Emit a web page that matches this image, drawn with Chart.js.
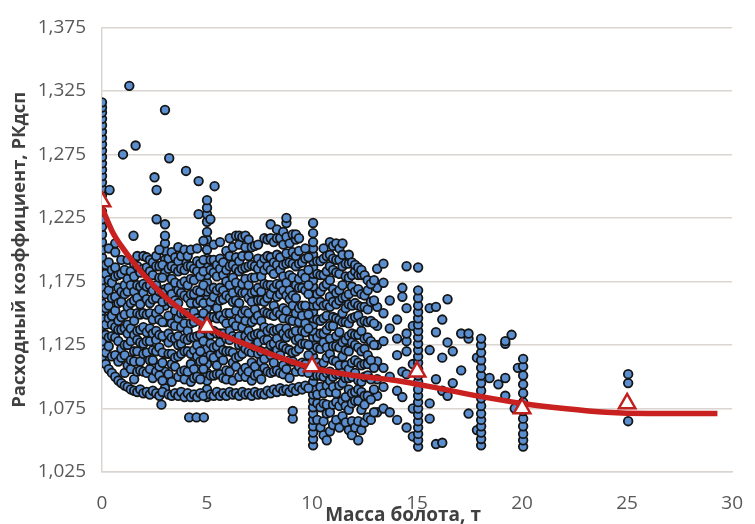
<!DOCTYPE html>
<html>
<head>
<meta charset="utf-8">
<script src="https://cdn.jsdelivr.net/npm/chart.js@4/dist/chart.umd.min.js"></script>
<style>
  html, body { margin: 0; padding: 0; background: #fff; }
  #wrap { width: 755px; height: 524px; }
</style>
</head>
<body>
<div id="wrap"><canvas id="chart"></canvas></div>
<script>
// columns and scattered points: масса болота (x) -> coefficients
const massX = [
  0, 0.36, 0.63, 1.0, 1.3, 1.5, 1.6, 2.5, 2.6, 2.83, 3.0, 3.2, 4.0, 4.15, 4.5, 4.6, 4.85, 5.0, 5.16, 5.36,
  10.05, 13.1, 13.4, 13.7, 14.05, 14.3, 14.5, 14.8, 15.05, 15.6, 15.9, 16.2, 16.45, 16.7, 17.1, 17.45,
  17.85, 18.05, 18.45, 18.87, 19.2, 19.5, 19.65, 19.8, 20.05, 25.05
]
const coefY = [
  [1.116,1.122,1.128,1.134,1.140,1.146,1.152,1.158,1.164,1.170,1.176,1.182,1.188,1.194,1.200,1.206,1.212,1.218,1.224,1.230,1.243,1.248,1.253,1.258,1.263,1.268,1.273,1.278,1.283,1.288,1.293,1.298,1.303,1.308,1.312,1.316],
  [1.247],
  [1.205],
  [1.275],
  [1.329],
  [1.211],
  [1.282],
  [1.257],
  [1.224,1.247],
  [1.078],
  [1.091,1.104,1.118,1.131,1.143,1.156,1.169,1.182,1.192,1.199,1.205,1.211,1.220,1.310],
  [1.272],
  [1.191,1.198,1.262],
  [1.068],
  [1.068],
  [1.228,1.254],
  [1.068],
  [1.084,1.090,1.097,1.103,1.110,1.116,1.122,1.129,1.135,1.142,1.148,1.154,1.161,1.167,1.174,1.180,1.186,1.193,1.200,1.208,1.214,1.222,1.228,1.233,1.239],
  [1.224],
  [1.250],
  [1.046,1.051,1.056,1.061,1.066,1.071,1.076,1.081,1.086,1.091,1.096,1.101,1.106,1.111,1.116,1.121,1.126,1.131,1.136,1.141,1.146,1.151,1.156,1.161,1.166,1.171,1.176,1.181,1.186,1.191,1.196,1.201,1.206,1.213,1.221],
  [1.072,1.085,1.098,1.112,1.125,1.140,1.155,1.170,1.185],
  [1.075,1.092,1.107,1.128,1.150,1.174,1.189],
  [1.072,1.100,1.138,1.160],
  [1.066,1.089,1.117,1.130,1.145],
  [1.084,1.104,1.163,1.170],
  [1.060,1.102,1.120,1.128,1.134,1.154,1.187],
  [1.053,1.075,1.110,1.140],
  [1.045,1.050,1.055,1.060,1.065,1.070,1.075,1.080,1.085,1.090,1.096,1.101,1.106,1.111,1.116,1.121,1.126,1.131,1.136,1.141,1.146,1.151,1.156,1.162,1.168,1.186],
  [1.067,1.079,1.121,1.154],
  [1.047,1.098,1.135,1.155],
  [1.048,1.089,1.115,1.145],
  [1.085,1.127,1.161],
  [1.095,1.120],
  [1.105,1.134],
  [1.071,1.130,1.134],
  [1.058,1.115],
  [1.046,1.051,1.056,1.061,1.066,1.071,1.077,1.083,1.089,1.095,1.101,1.107,1.113,1.119,1.125,1.130],
  [1.099],
  [1.094],
  [1.085,1.099,1.126,1.128],
  [1.133],
  [1.075],
  [1.107],
  [1.045,1.050,1.055,1.061,1.067,1.073,1.080,1.087,1.094,1.101,1.108,1.114],
  [1.065,1.095,1.102]
]

// dense cloud between 0 and 13 t
const cloudX = [
  0.18, 0.32, 0.47, 0.63, 0.78, 0.92, 1.08, 1.22, 1.37, 1.53, 1.68, 1.82, 1.97, 2.13, 2.28, 2.42, 2.58,
  2.73, 2.88, 3.17, 3.32, 3.48, 3.63, 3.77, 3.93, 4.08, 4.23, 4.38, 4.53, 4.68, 4.83, 5.17, 5.32, 5.47,
  5.62, 5.77, 5.92, 6.08, 6.23, 6.38, 6.53, 6.68, 6.83, 6.98, 7.13, 7.28, 7.43, 7.58, 7.73, 7.88, 8.03,
  8.18, 8.33, 8.48, 8.63, 8.78, 8.93, 9.08, 9.23, 9.38, 9.53, 9.68, 9.83, 10.25, 10.4, 10.55, 10.7,
  10.85, 11.0, 11.15, 11.3, 11.45, 11.6, 11.75, 11.9, 12.05, 12.2, 12.35, 12.5, 12.65, 12.8, 12.95
]
const cloudY = [
  [1.110,1.119,1.133,1.141,1.154,1.165,1.181,1.188],
  [1.106,1.124,1.131,1.146,1.156,1.168,1.176,1.190,1.201],
  [1.103,1.116,1.132,1.141,1.148,1.162,1.174,1.184],
  [1.100,1.117,1.131,1.139,1.152,1.163,1.179,1.186,1.198],
  [1.097,1.112,1.128,1.137,1.144,1.158,1.170,1.180],
  [1.095,1.115,1.122,1.137,1.147,1.159,1.167,1.181,1.192],
  [1.093,1.103,1.117,1.125,1.138,1.149,1.165,1.172,1.184],
  [1.092,1.109,1.125,1.134,1.141,1.155,1.167,1.177,1.192],
  [1.090,1.106,1.113,1.128,1.138,1.150,1.158,1.172,1.183],
  [1.089,1.098,1.112,1.120,1.133,1.144,1.160,1.167,1.179,1.189],
  [1.088,1.104,1.120,1.129,1.136,1.150,1.162,1.172,1.187,1.195],
  [1.090,1.105,1.112,1.127,1.137,1.149,1.157,1.171,1.182],
  [1.087,1.104,1.118,1.126,1.139,1.150,1.166,1.173,1.185,1.195],
  [1.088,1.103,1.119,1.128,1.135,1.149,1.161,1.171,1.186,1.194],
  [1.086,1.106,1.113,1.128,1.138,1.150,1.158,1.172,1.183,1.192],
  [1.089,1.099,1.113,1.121,1.134,1.145,1.161,1.168,1.180,1.190],
  [1.087,1.104,1.120,1.129,1.136,1.150,1.162,1.172,1.187,1.195],
  [1.085,1.101,1.108,1.123,1.133,1.145,1.153,1.167,1.178,1.187,1.200],
  [1.088,1.097,1.111,1.119,1.132,1.143,1.159,1.166,1.178,1.188],
  [1.086,1.102,1.118,1.127,1.134,1.148,1.160,1.170,1.185,1.193],
  [1.085,1.096,1.110,1.118,1.131,1.142,1.158,1.165,1.177,1.187,1.198],
  [1.087,1.108,1.115,1.130,1.140,1.152,1.160,1.174,1.185,1.194],
  [1.085,1.100,1.116,1.125,1.132,1.146,1.158,1.168,1.183,1.191,1.202],
  [1.088,1.104,1.118,1.126,1.139,1.150,1.166,1.173,1.185,1.195],
  [1.084,1.098,1.105,1.120,1.130,1.142,1.150,1.164,1.175,1.184,1.200],
  [1.087,1.104,1.120,1.129,1.136,1.150,1.162,1.172,1.187,1.195],
  [1.084,1.096,1.110,1.118,1.131,1.142,1.158,1.165,1.177,1.187,1.200],
  [1.086,1.099,1.106,1.121,1.131,1.143,1.151,1.165,1.176,1.185],
  [1.084,1.100,1.116,1.125,1.132,1.146,1.158,1.168,1.183,1.191,1.201],
  [1.087,1.098,1.112,1.120,1.133,1.144,1.160,1.167,1.179,1.189],
  [1.085,1.106,1.113,1.128,1.138,1.150,1.158,1.172,1.183,1.192,1.207],
  [1.086,1.101,1.117,1.126,1.133,1.147,1.159,1.169,1.184,1.192],
  [1.085,1.101,1.115,1.123,1.136,1.147,1.163,1.170,1.182,1.192,1.204],
  [1.088,1.102,1.109,1.124,1.134,1.146,1.154,1.168,1.179,1.188],
  [1.085,1.102,1.118,1.127,1.134,1.148,1.160,1.170,1.185,1.193,1.206],
  [1.087,1.099,1.113,1.121,1.134,1.145,1.161,1.168,1.180,1.190],
  [1.085,1.098,1.105,1.120,1.130,1.142,1.150,1.164,1.175,1.184,1.199],
  [1.088,1.104,1.120,1.129,1.136,1.150,1.162,1.172,1.187,1.195,1.209],
  [1.086,1.097,1.111,1.119,1.132,1.143,1.159,1.166,1.178,1.188,1.202],
  [1.087,1.108,1.115,1.130,1.140,1.152,1.160,1.174,1.185,1.194,1.211],
  [1.085,1.100,1.116,1.125,1.132,1.146,1.158,1.168,1.183,1.191,1.204,1.211],
  [1.088,1.104,1.118,1.126,1.139,1.150,1.166,1.173,1.185,1.195,1.210],
  [1.086,1.100,1.107,1.122,1.132,1.144,1.152,1.166,1.177,1.186,1.202,1.211],
  [1.087,1.104,1.120,1.129,1.136,1.150,1.162,1.172,1.187,1.195,1.208],
  [1.085,1.097,1.111,1.119,1.132,1.143,1.159,1.166,1.178,1.188,1.202],
  [1.088,1.101,1.108,1.123,1.133,1.145,1.153,1.167,1.178,1.187,1.203],
  [1.086,1.102,1.118,1.127,1.134,1.148,1.160,1.170,1.185,1.193,1.204],
  [1.087,1.098,1.112,1.120,1.133,1.144,1.160,1.167,1.179,1.189],
  [1.086,1.107,1.114,1.129,1.139,1.151,1.159,1.173,1.184,1.193,1.209],
  [1.089,1.104,1.120,1.129,1.136,1.150,1.162,1.172,1.187,1.195,1.208],
  [1.087,1.103,1.117,1.125,1.138,1.149,1.165,1.172,1.184,1.194,1.209,1.220],
  [1.090,1.104,1.111,1.126,1.136,1.148,1.156,1.170,1.181,1.190,1.206],
  [1.088,1.105,1.121,1.130,1.137,1.151,1.163,1.173,1.188,1.196,1.209,1.216],
  [1.091,1.103,1.117,1.125,1.138,1.149,1.165,1.172,1.184,1.194,1.209],
  [1.089,1.102,1.109,1.124,1.134,1.146,1.154,1.168,1.179,1.188,1.204,1.214],
  [1.090,1.106,1.122,1.131,1.138,1.152,1.164,1.174,1.189,1.197,1.210,1.221,1.225],
  [1.088,1.099,1.113,1.121,1.134,1.145,1.161,1.168,1.180,1.190,1.205],
  [1.067,1.073,1.091,1.112,1.119,1.134,1.144,1.156,1.164,1.178,1.189,1.198,1.212],
  [1.089,1.104,1.120,1.129,1.136,1.150,1.162,1.172,1.187,1.195,1.208,1.212],
  [1.092,1.108,1.122,1.130,1.143,1.154,1.170,1.177,1.189,1.199,1.209],
  [1.090,1.104,1.111,1.126,1.136,1.148,1.156,1.170,1.181,1.190],
  [1.093,1.110,1.126,1.135,1.142,1.156,1.168,1.178,1.193,1.201],
  [1.091,1.103,1.117,1.125,1.138,1.149,1.165,1.172,1.184,1.194],
  [1.066,1.079,1.086,1.101,1.111,1.123,1.131,1.145,1.156,1.165,1.181,1.191],
  [1.060,1.076,1.092,1.101,1.108,1.122,1.134,1.144,1.159,1.167,1.180,1.191],
  [1.054,1.065,1.079,1.087,1.100,1.111,1.127,1.134,1.146,1.156,1.171,1.180,1.193,1.201],
  [1.050,1.071,1.078,1.093,1.103,1.115,1.123,1.137,1.148,1.157,1.173,1.183,1.195],
  [1.057,1.072,1.088,1.097,1.104,1.118,1.130,1.140,1.155,1.163,1.176,1.187,1.196,1.206],
  [1.062,1.078,1.092,1.100,1.113,1.124,1.140,1.147,1.159,1.169,1.184,1.193,1.203],
  [1.066,1.080,1.087,1.102,1.112,1.124,1.132,1.146,1.157,1.166,1.182,1.192,1.205],
  [1.060,1.077,1.093,1.102,1.109,1.123,1.135,1.145,1.160,1.168,1.181,1.192,1.201],
  [1.069,1.081,1.095,1.103,1.116,1.127,1.143,1.150,1.162,1.172,1.187,1.196,1.205],
  [1.064,1.077,1.084,1.099,1.109,1.121,1.129,1.143,1.154,1.163,1.179,1.189],
  [1.058,1.074,1.090,1.099,1.106,1.120,1.132,1.142,1.157,1.165,1.178,1.189,1.196],
  [1.054,1.065,1.079,1.087,1.100,1.111,1.127,1.134,1.146,1.156,1.171,1.180,1.190],
  [1.060,1.081,1.088,1.103,1.113,1.125,1.133,1.147,1.158,1.167,1.183,1.188],
  [1.050,1.065,1.081,1.090,1.097,1.111,1.123,1.133,1.148,1.156,1.169,1.180,1.186],
  [1.058,1.074,1.088,1.096,1.109,1.120,1.136,1.143,1.155,1.165,1.180,1.184],
  [1.064,1.078,1.085,1.100,1.110,1.122,1.130,1.144,1.155,1.164,1.180],
  [1.068,1.085,1.101,1.110,1.117,1.131,1.143,1.153,1.168,1.176],
  [1.066,1.082,1.098,1.113,1.128,1.144,1.159,1.173],
  [1.072,1.090,1.107,1.125,1.142,1.160,1.176]
]

// средние значения (triangles)
const meanX = [0, 5, 10, 15, 20, 25]
const meanY = [1.238, 1.139, 1.108, 1.104, 1.075, 1.079]

// trend curve
const trendX = [0, 0.5, 1, 1.5, 2, 3, 4, 5, 6, 7, 8, 10, 12, 14, 16, 18, 20, 22, 24, 26, 29.3]
const trendY = [1.233, 1.214, 1.201, 1.190, 1.180, 1.163, 1.150, 1.139, 1.131, 1.1245, 1.118, 1.107, 1.101, 1.097, 1.091, 1.0845, 1.079, 1.075, 1.072, 1.071, 1.071]

const yTicks = [1.025, 1.075, 1.125, 1.175, 1.225, 1.275, 1.325, 1.375]

const toPoints = (xs, ys) => xs.flatMap((x, i) => ys[i].map((y) => ({ x, y })))
const scatterPoints = toPoints(massX, coefY).concat(toPoints(cloudX, cloudY))
const meanPoints = meanX.map((x, i) => ({ x, y: meanY[i] }))
const trendPoints = trendX.map((x, i) => ({ x, y: trendY[i] }))

const gridColor = '#dad5d1'

const axisTitles = {
  id: 'axisTitles',
  afterDraw(chart) {
    const { ctx, chartArea } = chart
    ctx.save()
    ctx.fillStyle = '#404040'
    ctx.textAlign = 'center'
    ctx.textBaseline = 'alphabetic'
    ctx.font = 'bold 19px "Open Sans"'
    ctx.fillText('Масса болота, т', (chartArea.left + chartArea.right) / 2 - 14, 521)
    ctx.font = 'bold 18.5px "Open Sans"'
    ctx.translate(25, (chartArea.top + chartArea.bottom) / 2)
    ctx.rotate(-Math.PI / 2)
    ctx.fillText('Расходный коэффициент, РКдсп', 0, 0)
    ctx.restore()
  }
}

new Chart(document.getElementById('chart'), {
  type: 'scatter',
  data: {
    datasets: [
      {
        data: meanPoints,
        order: 0,
        pointStyle: 'triangle',
        pointRadius: 9.5,
        pointBorderWidth: 2.5,
        pointBorderColor: '#c0201e',
        pointBackgroundColor: '#ffffff',
      },
      {
        data: trendPoints,
        order: 1,
        showLine: true,
        borderColor: '#c8211f',
        borderWidth: 5.5,
        pointRadius: 0,
        cubicInterpolationMode: 'monotone',
      },
      {
        data: scatterPoints,
        order: 2,
        pointRadius: 4.3,
        pointBorderWidth: 1.8,
        pointBorderColor: '#151515',
        pointBackgroundColor: '#5a8ecf',
      },
    ]
  },
  options: {
    responsive: true,
    maintainAspectRatio: false,
    animation: false,
    layout: { padding: { left: 0, right: 13, top: 22, bottom: 0 } },
    plugins: { legend: { display: false }, tooltip: { enabled: false } },
    scales: {
      x: {
        type: 'linear',
        min: 0,
        max: 30,
        grid: { display: false },
        border: { display: true, color: gridColor, width: 1.5 },
        ticks: {
          stepSize: 5,
          padding: 12,
          color: '#595959',
          font: { family: 'Open Sans', size: 19 },
        },
        afterFit(scale) { scale.height = 52 },
      },
      y: {
        type: 'linear',
        min: 1.025,
        max: 1.375,
        afterBuildTicks(scale) {
          scale.ticks = yTicks.map((v) => ({ value: v }))
        },
        grid: { color: gridColor, lineWidth: 1.5, drawTicks: false },
        border: { display: true, color: gridColor, width: 1.5 },
        ticks: {
          padding: 16,
          color: '#595959',
          font: { family: 'Open Sans', size: 19 },
          callback: (v) => v.toFixed(3).replace('.', ','),
        },
        afterFit(scale) { scale.width = 102 },
      },
    },
  },
  plugins: [axisTitles],
})
</script>
</body>
</html>
